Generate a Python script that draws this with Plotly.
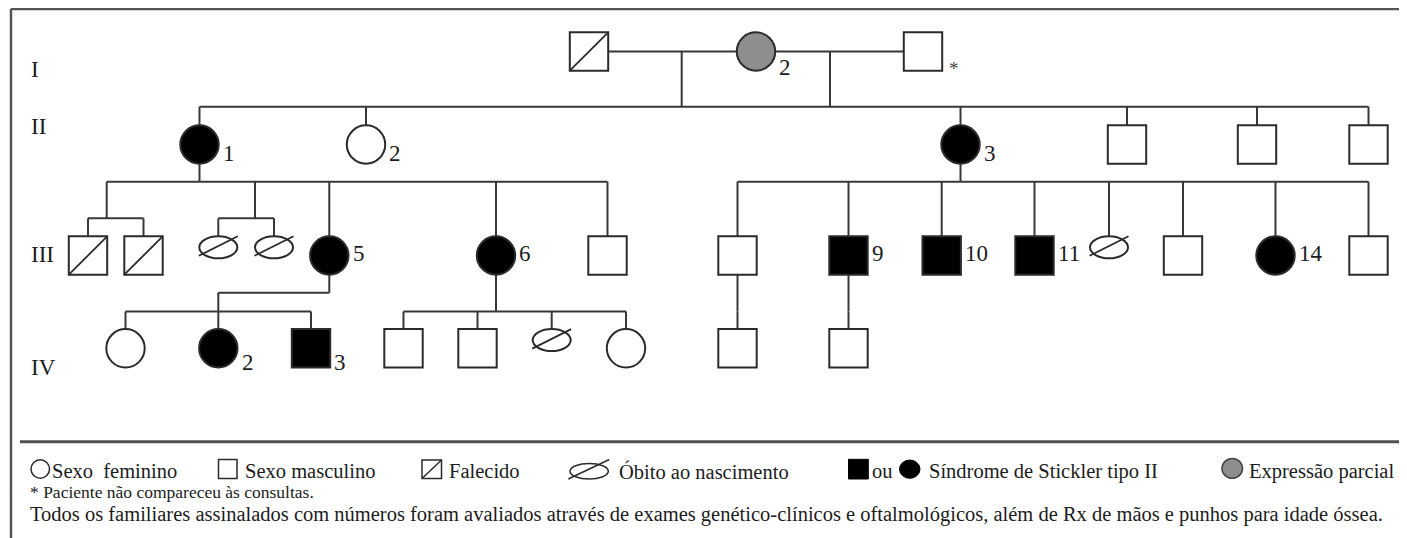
import plotly.graph_objects as go

# ---------------- data ----------------
generation_names = ["I", "II", "III", "IV"]

person_id = ["I-1", "I-2", "I-3",
             "II-1", "II-2", "II-3", "II-4", "II-5", "II-6",
             "III-1", "III-2", "III-3", "III-4", "III-5", "III-6", "III-7",
             "III-8", "III-9", "III-10", "III-11", "III-12", "III-13", "III-14", "III-15",
             "IV-1", "IV-2", "IV-3", "IV-4", "IV-5", "IV-6", "IV-7", "IV-8", "IV-9"]
person_gen = [0, 0, 0,
              1, 1, 1, 1, 1, 1,
              2, 2, 2, 2, 2, 2, 2,
              2, 2, 2, 2, 2, 2, 2, 2,
              3, 3, 3, 3, 3, 3, 3, 3, 3]
person_pos = [589, 756, 923,
              199.5, 366, 960.5, 1127, 1257, 1368.5,
              88, 143.5, 218.3, 274, 329.3, 496, 607.5,
              737.5, 848.5, 941.7, 1034.5, 1109, 1183, 1275.5, 1368.5,
              125.5, 218.3, 311, 403.5, 477.5, 551.7, 626, 737.5, 848.5]
person_sex = ["M", "F", "M",
              "F", "F", "F", "M", "M", "M",
              "M", "M", "U", "U", "F", "F", "M",
              "M", "M", "M", "M", "U", "M", "F", "M",
              "F", "F", "M", "M", "M", "U", "F", "M", "M"]
person_status = ["deceased", "partial", "normal",
                 "affected", "normal", "affected", "normal", "normal", "normal",
                 "deceased", "deceased", "stillbirth", "stillbirth", "affected", "affected", "normal",
                 "normal", "affected", "affected", "affected", "stillbirth", "normal", "affected", "normal",
                 "normal", "affected", "affected", "normal", "normal", "stillbirth", "normal", "normal", "normal"]
person_label = ["", "2", "*",
                "1", "2", "3", "", "", "",
                "", "", "", "", "5", "6", "",
                "", "9", "10", "11", "", "", "14", "",
                "", "2", "3", "", "", "", "", "", ""]

couples = [("I-1", "I-2"), ("I-2", "I-3")]
couple_drop_x = [681.7, 830.0]

twin_ids = [["III-1", "III-2"], ["III-3", "III-4"]]
twin_drop_x = [106.7, 255.0]

family_parents = [["I-1", "I-2", "I-3"], ["II-1"], ["II-3"], ["III-5"], ["III-6"], ["III-8"], ["III-9"]]
family_children = [["II-1", "II-2", "II-3", "II-4", "II-5", "II-6"],
                   ["T0", "T1", "III-5", "III-6", "III-7"],
                   ["III-8", "III-9", "III-10", "III-11", "III-12", "III-13", "III-14", "III-15"],
                   ["IV-1", "IV-2", "IV-3"],
                   ["IV-4", "IV-5", "IV-6", "IV-7"],
                   ["IV-8"],
                   ["IV-9"]]
family_jog_x = [None, None, None, 218.3, None, None, None]

legend_labels = ["Sexo\u00a0 feminino", "Sexo masculino", "Falecido", "Óbito ao nascimento",
                 "ou", "Síndrome de Stickler tipo II", "Expressão parcial"]
note_lines = ["* Paciente não compareceu às consultas.",
              "Todos os familiares assinalados com números foram avaliados através de exames "
              "genético-clínicos e oftalmológicos, além de Rx de mãos e punhos para idade óssea."]

# ---------------- layout constants ----------------
W, H = 1407, 538
PAGE_OFF = 8          # default page margin around the figure
ROW_Y = [51.5, 144.5, 255.5, 348.3]
GEN_LABEL_Y = [69, 126, 254, 367]
BAR_Y = [None, 106.7, 181.7, 311.5]
TWIN_BAR_Y = 218.3
JOG_Y = 292.7
HALF = 19.2
LABEL_DY = [16, 8.5, -2.5, 14.5]
LINE_COL = "#383838"
SYM_COL = "#2b2b2b"
GRAY = "#8e8e8e"
TXT = "#1c1c1c"
FONT = "Liberation Serif, Times New Roman, serif"

idx = {pid: i for i, pid in enumerate(person_id)}
shapes, annotations = [], []
lx, ly = [], []


def seg(x0, y0, x1, y1):
    lx.extend([x0, x1, None])
    ly.extend([y0, y1, None])


def px(pid):
    return person_pos[idx[pid]]


def row(pid):
    return ROW_Y[person_gen[idx[pid]]]


# ---------------- symbols ----------------
for i, pid in enumerate(person_id):
    x = person_pos[i]
    y = ROW_Y[person_gen[i]]
    st = person_status[i]
    sx = person_sex[i]
    fill = "black" if st == "affected" else (GRAY if st == "partial" else "white")
    ln = dict(color=SYM_COL, width=2)
    if sx == "U":
        top = y - HALF
        shapes.append(dict(type="circle", xref="x", yref="y", x0=x - 19, x1=x + 19,
                           y0=top, y1=top + 22, line=ln, fillcolor="white"))
        shapes.append(dict(type="line", xref="x", yref="y", x0=x - 19.5, y0=top + 19.5,
                           x1=x + 19.5, y1=top, line=dict(color=SYM_COL, width=1.8)))
    else:
        shapes.append(dict(type="rect" if sx == "M" else "circle", xref="x", yref="y",
                           x0=x - HALF, x1=x + HALF, y0=y - HALF, y1=y + HALF,
                           line=ln, fillcolor=fill))
        if st == "deceased":
            shapes.append(dict(type="line", xref="x", yref="y", x0=x - HALF, y0=y + HALF,
                               x1=x + HALF, y1=y - HALF, line=dict(color=SYM_COL, width=1.8)))
    lab = person_label[i]
    if lab:
        g = person_gen[i]
        if lab == "*":
            annotations.append(dict(x=x + HALF + 5, y=y + LABEL_DY[g] + 1, xref="x", yref="y",
                                    text=lab, showarrow=False, xanchor="left", yanchor="middle",
                                    font=dict(family=FONT, size=19, color="#444")))
        else:
            annotations.append(dict(x=x + HALF + 2, y=y + LABEL_DY[g], xref="x", yref="y",
                                    text=lab, showarrow=False, xanchor="left", yanchor="middle",
                                    font=dict(family=FONT, size=23, color=TXT)))

# ---------------- connecting lines ----------------
for a, b in couples:
    seg(px(a) + HALF, row(a), px(b) - HALF, row(b))

for parents, kids, jog in zip(family_parents, family_children, family_jog_x):
    pg = person_gen[idx[parents[0]]]
    bar = BAR_Y[pg + 1]
    xs = []
    if len(parents) > 1:
        for dx in couple_drop_x:
            seg(dx, ROW_Y[pg], dx, bar)
            xs.append(dx)
    else:
        p = px(parents[0])
        pb = ROW_Y[pg] + HALF
        if jog is not None:
            seg(p, pb, p, JOG_Y)
            seg(p, JOG_Y, jog, JOG_Y)
            seg(jog, JOG_Y, jog, bar)
            xs.append(jog)
        else:
            seg(p, pb, p, bar)
            xs.append(p)
    for k in kids:
        if k.startswith("T"):
            t = int(k[1:])
            dx = twin_drop_x[t]
            seg(dx, bar, dx, TWIN_BAR_Y)
            txs = [px(m) for m in twin_ids[t]]
            seg(min(txs), TWIN_BAR_Y, max(txs), TWIN_BAR_Y)
            for m in twin_ids[t]:
                seg(px(m), TWIN_BAR_Y, px(m), row(m) - HALF)
            xs.append(dx)
        else:
            seg(px(k), bar, px(k), row(k) - HALF)
            xs.append(px(k))
    if max(xs) > min(xs):
        seg(min(xs), bar, max(xs), bar)

# ---------------- generation labels ----------------
for g, name in enumerate(generation_names):
    annotations.append(dict(x=29, y=GEN_LABEL_Y[g], xref="x", yref="y", text=name,
                            showarrow=False, xanchor="left", yanchor="middle",
                            font=dict(family=FONT, size=23, color=TXT)))

# ---------------- frame & separator ----------------
frame = dict(color="#555555", width=2.5)
shapes.append(dict(type="line", xref="x", yref="y", x0=11, y0=9, x1=W + 5, y1=9, line=frame))
shapes.append(dict(type="line", xref="x", yref="y", x0=11, y0=9, x1=11, y1=H + 5, line=frame))
shapes.append(dict(type="line", xref="x", yref="y", x0=20, y0=441.7, x1=W + 5, y1=441.7,
                   line=dict(color="#505050", width=3)))

# ---------------- legend ----------------
LEG_Y = 469
lg = dict(color=SYM_COL, width=1.5)
shapes.append(dict(type="circle", xref="x", yref="y", x0=31, x1=49.5, y0=LEG_Y - 9.3, y1=LEG_Y + 9.3,
                   line=lg, fillcolor="white"))
shapes.append(dict(type="rect", xref="x", yref="y", x0=218.5, x1=237, y0=LEG_Y - 9.5, y1=LEG_Y + 9.5,
                   line=lg, fillcolor="white"))
shapes.append(dict(type="rect", xref="x", yref="y", x0=422, x1=441.5, y0=LEG_Y - 9, y1=LEG_Y + 9.5,
                   line=lg, fillcolor="white"))
shapes.append(dict(type="line", xref="x", yref="y", x0=422, y0=LEG_Y + 9.5, x1=441.5, y1=LEG_Y - 9,
                   line=lg))
shapes.append(dict(type="circle", xref="x", yref="y", x0=570, x1=608.3, y0=LEG_Y - 5.5, y1=LEG_Y + 10,
                   line=lg, fillcolor="white"))
shapes.append(dict(type="line", xref="x", yref="y", x0=568.3, y0=LEG_Y + 10, x1=609.3, y1=LEG_Y - 9.5,
                   line=lg))
shapes.append(dict(type="rect", xref="x", yref="y", x0=848.5, x1=868.3, y0=LEG_Y - 9.7, y1=LEG_Y + 10,
                   line=dict(color="black", width=1), fillcolor="black"))
shapes.append(dict(type="circle", xref="x", yref="y", x0=899.5, x1=920, y0=LEG_Y - 9, y1=LEG_Y + 9.3,
                   line=dict(color="black", width=1), fillcolor="black"))
shapes.append(dict(type="circle", xref="x", yref="y", x0=1222, x1=1242.5, y0=LEG_Y - 10.5, y1=LEG_Y + 9.3,
                   line=dict(color="#444", width=1.5), fillcolor=GRAY))

legend_x = [50, 243, 447.3, 616.7, 870, 926.7, 1246.7]
for tx, t in zip(legend_x, legend_labels):
    annotations.append(dict(x=tx, y=LEG_Y + 2, xref="x", yref="y", text=t, showarrow=False,
                            xanchor="left", yanchor="middle",
                            font=dict(family=FONT, size=20.5, color=TXT)))

annotations.append(dict(x=28, y=491.5, xref="x", yref="y", text=note_lines[0], showarrow=False,
                        xanchor="left", yanchor="middle", font=dict(family=FONT, size=17.5, color=TXT)))
annotations.append(dict(x=28, y=514, xref="x", yref="y", text=note_lines[1], showarrow=False,
                        xanchor="left", yanchor="middle", font=dict(family=FONT, size=20.5, color=TXT)))

# ---------------- figure ----------------
# The page places the figure PAGE_OFF px from the top-left corner, so the axes
# start at PAGE_OFF to keep data units equal to window pixels.
fig = go.Figure()
fig.add_trace(go.Scatter(x=lx, y=ly, mode="lines", line=dict(color=LINE_COL, width=2),
                         hoverinfo="skip", showlegend=False))
fig.update_layout(
    width=W - PAGE_OFF, height=H - PAGE_OFF, margin=dict(l=0, r=0, t=0, b=0),
    paper_bgcolor="white", plot_bgcolor="white",
    xaxis=dict(range=[PAGE_OFF, W], visible=False, fixedrange=True),
    yaxis=dict(range=[H, PAGE_OFF], visible=False, fixedrange=True),
    shapes=shapes, annotations=annotations, showlegend=False,
)
fig.write_html("out.html", config={"displayModeBar": False})
